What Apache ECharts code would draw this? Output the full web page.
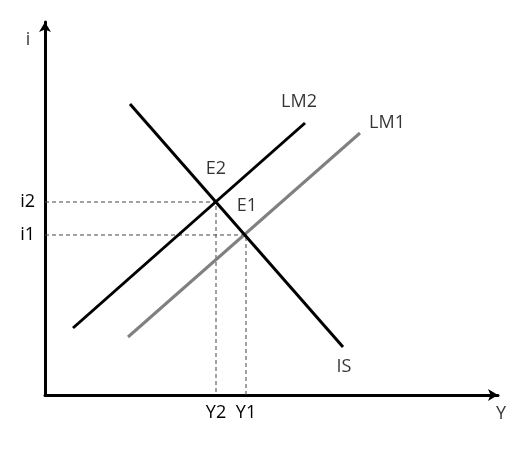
<!DOCTYPE html>
<html><head><meta charset="utf-8">
<script src="https://cdn.jsdelivr.net/npm/echarts@6/dist/echarts.min.js"></script>
<style>html,body{margin:0;padding:0;background:#fff}#c{width:525px;height:460px}</style>
</head><body><div id="c"></div>
<script>
// Data (output Y on x, interest rate i on y), arbitrary units
const IS  = [[85, 291], [298, 48]];
const LM2 = [[28, 67], [260, 272]];
const LM1 = [[83, 58], [315, 262]];
const E2 = [171, 193];
const E1 = [201, 160];
const yTickValues = [160, 193];
const yTickLabels = ['i1', 'i2'];
const xTickValues = [171, 201];
const xTickLabels = ['Y2', 'Y1'];
const curveLabels = [
  {name: 'E2', value: [171, 226]},
  {name: 'E1', value: [202, 189]},
  {name: 'LM2', value: [254, 293]},
  {name: 'LM1', value: [342, 272]},
  {name: 'IS', value: [299, 28]}
];
const axisNames = [
  {name: 'i', value: [-17, 355]},
  {name: 'Y', value: [456, -19]}
];

const FONT = '"Open Sans", "Liberation Sans", sans-serif';
const TXT = '#000';
const FS = 18;
const chart = echarts.init(document.getElementById('c'));
function seg(data, color, width, type) {
  return {type: 'line', data: data, symbol: 'none', silent: true, animation: false,
    lineStyle: {color: color, width: width, type: type || 'solid'}};
}
chart.setOption({
  animation: false,
  grid: {left: 45, top: 22, width: 453, height: 373},
  xAxis: {type: 'value', min: 0, max: 453, splitLine: {show: false},
    axisLine: {lineStyle: {color: '#000', width: 3}, symbol: ['none', 'arrow'], symbolSize: [9, 10]},
    axisTick: {show: false},
    axisLabel: {customValues: xTickValues, margin: 9, color: TXT, fontSize: FS, fontFamily: FONT,
      formatter: v => xTickLabels[xTickValues.indexOf(v)] || ''}},
  yAxis: {type: 'value', min: 0, max: 373, splitLine: {show: false},
    axisLine: {lineStyle: {color: '#000', width: 3}, symbol: ['none', 'arrow'], symbolSize: [9, 10]},
    axisTick: {show: false},
    axisLabel: {customValues: yTickValues, margin: 10, color: TXT, fontSize: FS, fontFamily: FONT,
      formatter: v => yTickLabels[yTickValues.indexOf(v)] || ''}},
  series: [
    seg([[0, E2[1]], E2, [E2[0], 0]], '#444', 1, [4, 3]),
    seg([[0, E1[1]], E1, [E1[0], 0]], '#444', 1, [4, 3]),
    seg(LM1, '#808080', 3),
    seg(LM2, '#000', 3),
    seg(IS, '#000', 3),
    {type: 'scatter', clip: false, silent: true, symbolSize: 1, itemStyle: {color: 'rgba(0,0,0,0)'},
      data: curveLabels.concat(axisNames),
      label: {show: true, position: 'inside', formatter: p => p.name, color: TXT, fontSize: FS, fontFamily: FONT}}
  ]
});
</script></body></html>
